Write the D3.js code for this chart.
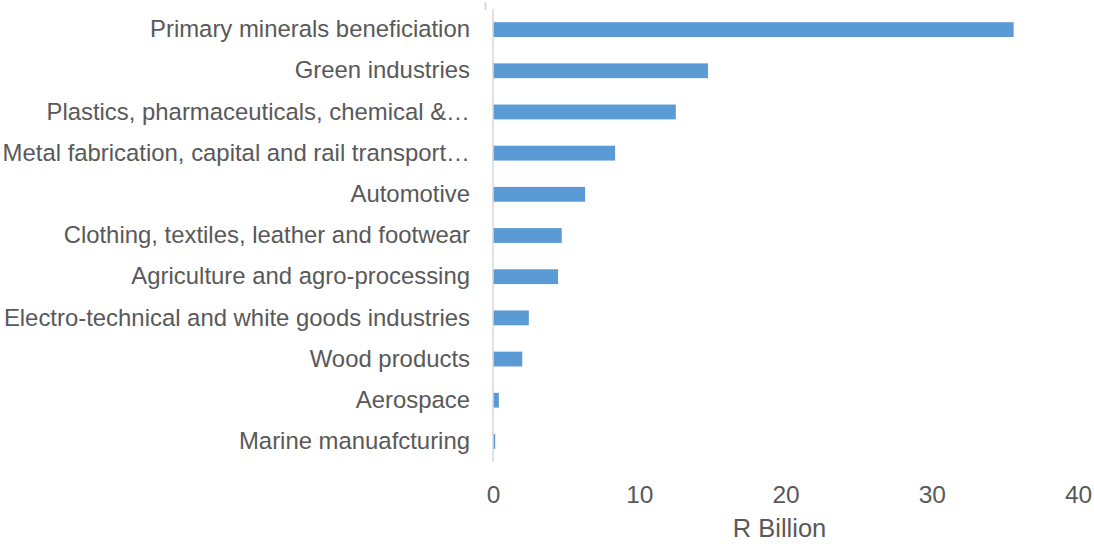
<!DOCTYPE html>
<html>
<head>
<meta charset="utf-8">
<script src="https://cdn.jsdelivr.net/npm/d3@7"></script>
<style>
  html, body { margin: 0; padding: 0; background: #fff; }
  svg { display: block; }
  text { font-family: "Liberation Sans", Arial, sans-serif; fill: #595959; }
</style>
</head>
<body>
<svg id="chart" width="1094" height="544"></svg>
<script>
// Sectors, listed top to bottom
const categories = [
  "Primary minerals beneficiation",
  "Green industries",
  "Plastics, pharmaceuticals, chemical &\u2026",
  "Metal fabrication, capital and rail transport\u2026",
  "Automotive",
  "Clothing, textiles, leather and footwear",
  "Agriculture and agro-processing",
  "Electro-technical and white goods industries",
  "Wood products",
  "Aerospace",
  "Marine manuafcturing"
];

// Value per sector, R billion
const values = [35.6, 14.7, 12.5, 8.35, 6.3, 4.7, 4.45, 2.45, 2.0, 0.4, 0.15];

// X-axis ticks
const xTicks = [0, 10, 20, 30, 40];
const xTitle = "R Billion";

const svg = d3.select("#chart");

const plot = { left: 493, right: 1078, top: 9, bottom: 462 };

const x = d3.scaleLinear().domain([0, 40]).range([plot.left, plot.right]);
const y = d3.scaleBand().domain(categories).range([plot.top, plot.bottom]).paddingInner(0.64).paddingOuter(0.32);

// Bars
svg.append("g")
  .selectAll("rect")
  .data(categories)
  .join("rect")
  .attr("x", x(0))
  .attr("y", d => y(d))
  .attr("width", (d, i) => x(values[i]) - x(0))
  .attr("height", y.bandwidth())
  .attr("fill", "#5b9bd5");

// Vertical category axis line
svg.append("line")
  .attr("x1", x(0)).attr("x2", x(0))
  .attr("y1", plot.top).attr("y2", plot.bottom)
  .attr("stroke", "#d9d9d9").attr("stroke-width", 1.5);

// small mark above the axis
svg.append("line")
  .attr("x1", 485.5).attr("x2", 485.5)
  .attr("y1", 2).attr("y2", 10)
  .attr("stroke", "#d9d9d9").attr("stroke-width", 2);

// Category labels
const yAxis = d3.axisLeft(y).tickSize(0).tickPadding(0);
const gy = svg.append("g").attr("transform", `translate(${x(0) - 23},0)`).call(yAxis);
gy.select(".domain").remove();
gy.selectAll("text")
  .attr("fill", "#595959")
  .style("font-size", "23.9px")
  .style("font-family", "'Liberation Sans', Arial, sans-serif");

// Value axis labels
const xAxis = d3.axisBottom(x).tickValues(xTicks).tickSize(0).tickPadding(0).tickFormat(d3.format("d"));
const gx = svg.append("g").attr("transform", `translate(0,${plot.bottom + 24})`).call(xAxis);
gx.select(".domain").remove();
gx.selectAll("text")
  .attr("fill", "#595959")
  .style("font-size", "24.5px")
  .style("font-family", "'Liberation Sans', Arial, sans-serif");

// Axis title
svg.append("text")
  .attr("x", (x(0) + x(40)) / 2 - 6)
  .attr("y", 537)
  .attr("text-anchor", "middle")
  .style("font-size", "25.5px")
  .text(xTitle);
</script>
</body>
</html>
